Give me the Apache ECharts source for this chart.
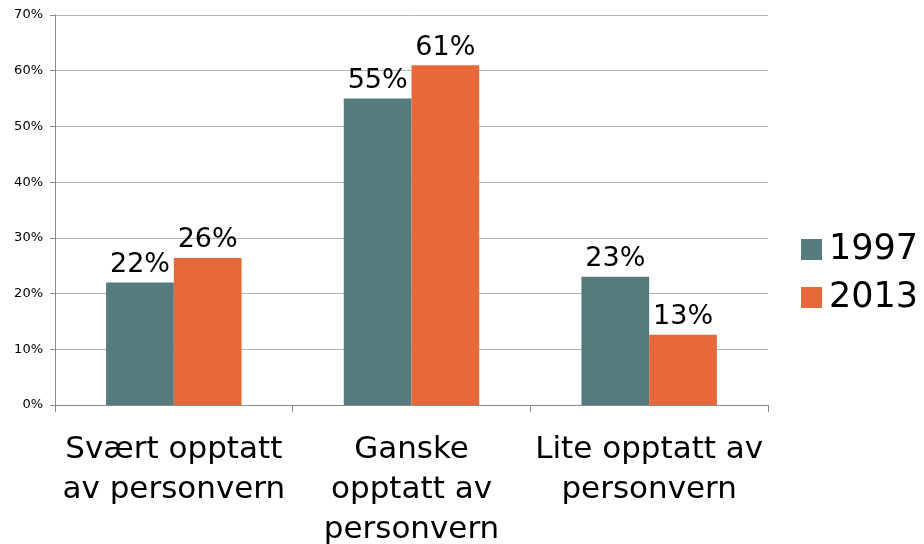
<!DOCTYPE html>
<html><head><meta charset="utf-8">
<script src="https://cdn.jsdelivr.net/npm/echarts@6/dist/echarts.min.js"></script>
<style>html,body{margin:0;padding:0;background:#fff}#c{width:924px;height:544px}</style>
</head><body><div id="c"></div>
<script>
const categories = ["Svært opptatt\nav personvern", "Ganske\nopptatt av\npersonvern", "Lite opptatt av\npersonvern"];
const seriesNames = ["1997", "2013"];
const values1997 = [22, 55, 23];
const values2013 = [26.4, 61, 12.6];
const yTicks = [0, 10, 20, 30, 40, 50, 60, 70];
const colors = ["#547B7E", "#E6693B"];

const chart = echarts.init(document.getElementById('c'), null, {renderer: 'canvas'});
const labelCfg = {
  show: true, position: 'top', distance: 4,
  fontFamily: 'DejaVu Sans', fontSize: 27, color: '#000',
  formatter: p => Math.round(p.value) + '%'
};
chart.setOption({
  animation: false,
  grid: {left: 55, right: 156, top: 15, bottom: 139, containLabel: false, outerBoundsMode: 'none'},
  legend: {
    orient: 'vertical', left: 796, top: 227, itemGap: 13,
    itemWidth: 21, itemHeight: 21, icon: 'rect',
    textStyle: {fontFamily: 'DejaVu Sans', fontSize: 35, color: '#000', padding: [0,0,0,2]},
    data: seriesNames
  },
  xAxis: {
    type: 'category', data: categories,
    axisLine: {lineStyle: {color: '#8c8c8c', width: 1}},
    axisTick: {show: true, length: 7, lineStyle: {color: '#8c8c8c'}},
    axisLabel: {fontFamily: 'DejaVu Sans', fontSize: 31, color: '#000', lineHeight: 40, margin: 25, interval: 0}
  },
  yAxis: {
    type: 'value', min: 0, max: 70, interval: 10,
    axisLine: {show: true, lineStyle: {color: '#8c8c8c'}},
    axisTick: {show: true, length: 5, lineStyle: {color: '#8c8c8c'}},
    splitLine: {lineStyle: {color: '#b4b4b4', width: 1}},
    axisLabel: {fontFamily: 'DejaVu Sans', fontSize: 13, color: '#000', margin: 12,
      formatter: v => yTicks.includes(v) ? v + '%' : ''}
  },
  series: [
    {name: seriesNames[0], type: 'bar', data: values1997, itemStyle: {color: colors[0]},
     barGap: '0%', barCategoryGap: '43%', label: labelCfg},
    {name: seriesNames[1], type: 'bar', data: values2013, itemStyle: {color: colors[1]},
     barGap: '0%', barCategoryGap: '43%', label: labelCfg}
  ]
});
</script></body></html>
